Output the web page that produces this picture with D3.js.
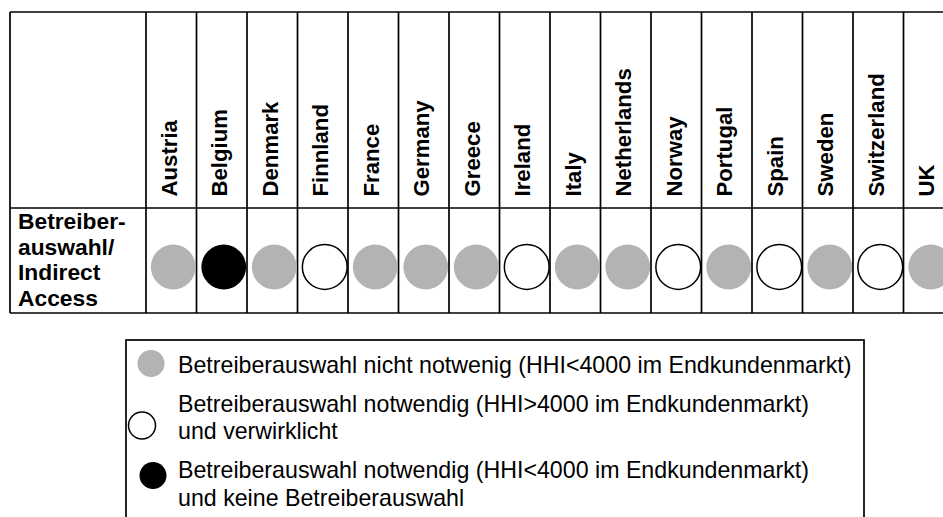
<!DOCTYPE html>
<html>
<head>
<meta charset="utf-8">
<script src="https://cdn.jsdelivr.net/npm/d3@7"></script>
<style>
  html, body { margin: 0; padding: 0; background: #fff; }
  svg { display: block; }
  text { font-family: "Liberation Sans", Arial, sans-serif; fill: #000; }
</style>
</head>
<body>
<svg id="chart" width="943" height="517"></svg>
<script>
// ---- data ----
const countries = ["Austria","Belgium","Denmark","Finnland","France","Germany","Greece","Ireland","Italy","Netherlands","Norway","Portugal","Spain","Sweden","Switzerland","UK"];
// status: 0 = nicht notwendig (grey), 1 = notwendig & verwirklicht (white), 2 = notwendig & keine Betreiberauswahl (black)
const status = [0,2,0,1,0,0,0,1,0,0,1,0,1,0,1,0];
const rowHeader = ["Betreiber-","auswahl/","Indirect","Access"];
const legendLabels = [
  ["Betreiberauswahl nicht notwenig (HHI<4000 im Endkundenmarkt)"],
  ["Betreiberauswahl notwendig (HHI>4000 im Endkundenmarkt)", "und verwirklicht"],
  ["Betreiberauswahl notwendig (HHI<4000 im Endkundenmarkt)", "und keine Betreiberauswahl"]
];
const statusKeys = [0,1,2];

// ---- layout ----
const svg = d3.select("#chart");
svg.append("rect").attr("width",943).attr("height",517).attr("fill","#fff");

const tableLeft = 10, firstColRight = 146, colW = 50.5;
const yTop = 12, yMid = 208, yBot = 313;
const x = d3.scaleBand().domain(countries).range([firstColRight, firstColRight + colW*countries.length]).padding(0);
const fill = d3.scaleOrdinal().domain(statusKeys).range(["#b3b3b3","#ffffff","#000000"]);
const stroke = d3.scaleOrdinal().domain(statusKeys).range(["none","#000","none"]);

const lineW = 1.7;
const g = svg.append("g");
const right = x.range()[1];

// horizontal lines
[yTop, yMid, yBot].forEach(y => {
  g.append("line").attr("x1", tableLeft).attr("x2", right).attr("y1", y).attr("y2", y)
    .attr("stroke","#000").attr("stroke-width", lineW);
});
// vertical lines
const vx = [tableLeft, firstColRight].concat(countries.map(c => x(c) + x.bandwidth()));
g.selectAll("line.v").data(vx).join("line").attr("class","v")
  .attr("x1", d => d).attr("x2", d => d).attr("y1", yTop).attr("y2", yBot)
  .attr("stroke","#000").attr("stroke-width", lineW);

// column labels
g.selectAll("text.col").data(countries).join("text").attr("class","col")
  .attr("transform", d => `translate(${x(d) + x.bandwidth()/2 + 5.5},196.5) rotate(-90)`)
  .attr("font-size", 22.2).attr("font-weight","bold")
  .text(d => d);

// row header
g.selectAll("text.rh").data(rowHeader).join("text").attr("class","rh")
  .attr("x", 18).attr("y", (d,i) => 229 + i*25.7)
  .attr("font-size", 22.8).attr("font-weight","bold")
  .text(d => d);

// circles
g.selectAll("circle.m").data(countries).join("circle").attr("class","m")
  .attr("cx", d => x(d) + x.bandwidth()/2 + 2)
  .attr("cy", 267)
  .attr("r", 22.4)
  .attr("fill", (d,i) => fill(status[i]))
  .attr("stroke", (d,i) => stroke(status[i]))
  .attr("stroke-width", 1.5);

// legend
const lg = svg.append("g");
lg.append("rect").attr("x",126).attr("y",340).attr("width",738).attr("height",200)
  .attr("fill","none").attr("stroke","#000").attr("stroke-width", lineW);

const legendMarkerPos = [[151,363.5],[142,425.5],[153,475.5]];
const legendTextY = [[373],[412,439],[478,506]];
statusKeys.forEach((k,i) => {
  lg.append("circle").attr("cx", legendMarkerPos[i][0]).attr("cy", legendMarkerPos[i][1]).attr("r", 13.5)
    .attr("fill", fill(k)).attr("stroke", stroke(k)).attr("stroke-width", 1.5);
  legendLabels[i].forEach((t,j) => {
    lg.append("text").attr("x",178).attr("y", legendTextY[i][j]).attr("font-size", 23.2).text(t);
  });
});
</script>
</body>
</html>
